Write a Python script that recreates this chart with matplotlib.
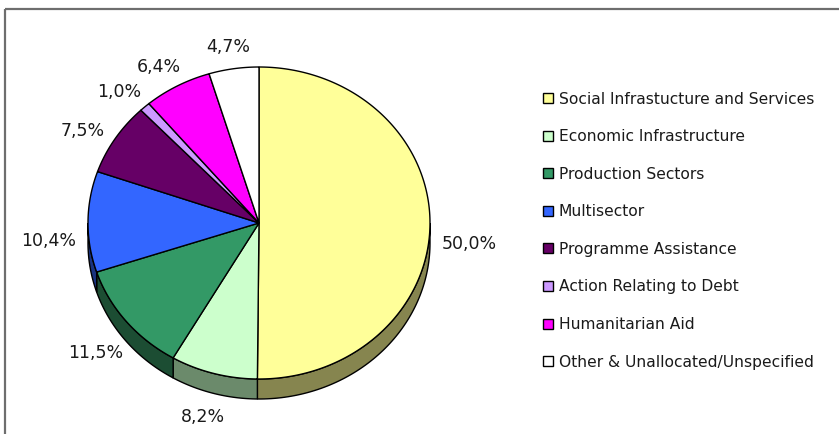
import numpy as np
import matplotlib
matplotlib.use("Agg")
import matplotlib.pyplot as plt
from matplotlib.patches import Polygon, Rectangle

categories = ["Social Infrastucture and Services", "Economic Infrastructure",
              "Production Sectors", "Multisector", "Programme Assistance",
              "Action Relating to Debt", "Humanitarian Aid",
              "Other & Unallocated/Unspecified"]
values = [50.0, 8.2, 11.5, 10.4, 7.5, 1.0, 6.4, 4.7]
labels = ["50,0%", "8,2%", "11,5%", "10,4%", "7,5%", "1,0%", "6,4%", "4,7%"]
top_colors = ["#FFFF99", "#CCFFCC", "#339966", "#3366FF", "#660066",
              "#CC99FF", "#FF00FF", "#FFFFFF"]
side_colors = ["#86854F", "#6B8A6B", "#1C4D33", "#1A3380", "#330033",
               "#664C80", "#800080", "#808080"]

W, H = 839, 435
fig = plt.figure(figsize=(W / 100, H / 100), dpi=100)
ax = fig.add_axes([0, 0, 1, 1])
ax.set_xlim(0, W)
ax.set_ylim(H, 0)
ax.axis("off")

# chart frame
ax.add_patch(Rectangle((5, 10), 900, 500, fill=False, edgecolor="#6E6E6E", lw=1.6))

# pie geometry (pixels)
cx, cy, rx, ry, depth = 259, 224, 171, 156, 20

vals = np.array(values)
frac = vals / vals.sum()
ends = np.cumsum(frac)
starts = ends - frac
# clockwise from 12 o'clock -> math angles
a0 = 90 - starts * 360
a1 = 90 - ends * 360


def pt(t, dy=0):
    t = np.radians(t)
    return cx + rx * np.cos(t), cy - ry * np.sin(t) + dy


# side walls (front half only)
for i in range(len(values)):
    for shift in (0, -360, 360):
        h, l = a0[i] + shift, a1[i] + shift
        s_hi, s_lo = min(h, 0), max(l, -180)
        if s_hi > s_lo:
            ts = np.linspace(s_hi, s_lo, 80)
            xs, ys = pt(ts)
            xb, yb = pt(ts[::-1], depth)
            poly = np.column_stack([np.r_[xs, xb], np.r_[ys, yb]])
            ax.add_patch(Polygon(poly, closed=True, facecolor=side_colors[i],
                                 edgecolor="black", lw=1.0, zorder=2))

# top faces
for i in range(len(values)):
    ts = np.linspace(a0[i], a1[i], 200)
    xs, ys = pt(ts)
    poly = np.column_stack([np.r_[cx, xs], np.r_[cy, ys]])
    ax.add_patch(Polygon(poly, closed=True, facecolor=top_colors[i],
                         edgecolor="black", lw=1.0, zorder=3))

# data labels
lcx, lcy, lrx = 259, 229, 210
mids = (a0 + a1) / 2
for i, lab in enumerate(labels):
    t = np.radians(mids[i])
    s = np.sin(t)
    lry = 184 if s >= 0 else 195
    x = lcx + lrx * np.cos(t)
    y = lcy - lry * s + 14 * (1 - abs(s)) ** 3
    ax.text(x, y, lab, ha="center", va="center", fontsize=12.5,
            color="#1A1A1A", zorder=5)

# legend
lx, ly0, step = 543, 99, 37.6
for i, name in enumerate(categories):
    y = ly0 + i * step
    ax.add_patch(Rectangle((lx, y - 5), 10, 10, facecolor=top_colors[i],
                           edgecolor="black", lw=1.0, zorder=4))
    ax.text(lx + 16, y, name, ha="left", va="center", fontsize=11.2,
            color="#1A1A1A", zorder=5)

fig.savefig("out.png", dpi=100)
